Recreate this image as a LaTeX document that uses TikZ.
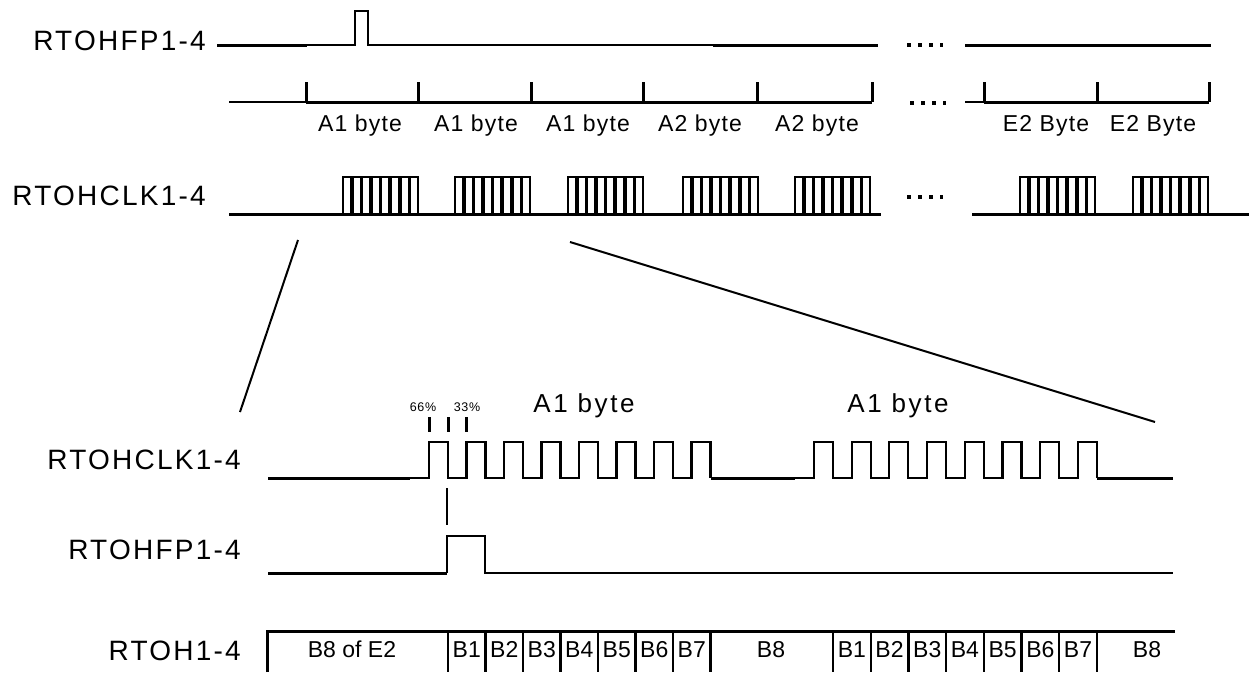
\documentclass[tikz,border=0pt]{standalone}
\usepackage{fontspec}
\setmainfont{Liberation Sans}
\newfontfamily\sigfont[LetterSpace=8]{Liberation Sans}
\newfontfamily\bytefont[LetterSpace=5]{Liberation Sans}
\newfontfamily\bigfont[LetterSpace=10]{Liberation Sans}

\tikzset{
  siglabel/.style={anchor=base east, inner sep=0pt, font=\sigfont\fontsize{28}{31}\selectfont},
  bytelabel/.style={anchor=base, inner sep=0pt, font=\bytefont\fontsize{23}{26}\selectfont},
  biglabel/.style={anchor=base, inner sep=0pt, font=\bigfont\fontsize{26}{29}\selectfont},
  pctlabel/.style={anchor=base, inner sep=0pt, font=\bytefont\fontsize{12.5}{15}\selectfont},
  celllabel/.style={anchor=base, inner sep=0pt, font=\fontsize{23}{26}\selectfont},
  wave/.style={line width=2.1pt},
  thickwave/.style={line width=3pt},
  dots/.style={line width=4pt, dash pattern=on 4pt off 7pt},
  zoomline/.style={line width=2pt},
}

\begin{document}
\begin{tikzpicture}[x=1pt,y=-1pt]
		\fill[white] (0,0) rectangle (1258,672);
		\useasboundingbox (0,0) rectangle (1258,672);
		
		% 上半部分: 帧脉冲
		\node[siglabel] (fpTop) at (206,50) {RTOHFP1-4};
		\draw[thickwave] (217,45) -- (307,45);
		\draw[wave] (307,45) -- (355,45) -- (355,11) -- (368,11) -- (368,45) -- (713,45);
		\draw[thickwave] (713,45) -- (878,45);
		\draw[dots] (907,45) -- (943,45);
		\draw[thickwave] (965,45) -- (1211,45);
		
		% 字节刻度
		\draw[wave] (229,102) -- (306,102);
		\draw[thickwave] (306,102) -- (872,102);
		\foreach \x in {306,418,531,643,757,872}
			\draw[thickwave] (\x,102) -- (\x,82);
		\draw[dots] (910,103) -- (946,103);
		\draw[wave] (965,102) -- (984,102);
		\draw[thickwave] (984,102) -- (1209,102);
		\foreach \x in {984,1097,1209}
			\draw[thickwave] (\x,102) -- (\x,82);
		\foreach \x/\t [count=\i] in {360/A1 byte,476/A1 byte,588/A1 byte,700/A2 byte,817/A2 byte,1046/E2 Byte,1153/E2 Byte}
			\node[bytelabel] (byte\i) at (\x,131) {\t};
		
		% 上半部分: 时钟
		\node[siglabel] (clkTop) at (206,205) {RTOHCLK1-4};
		\draw[thickwave] (229,214) -- (881,214);
		\draw[dots] (907,197) -- (943,197);
		\draw[thickwave] (972,214) -- (1249,214);
		\foreach \s in {343,455,568,683,795,1020,1133}
			\draw[wave] (\s,214) \foreach \k in {0,...,7} {-- ++(0,-37) -- ++(8.1,0) -- ++(0,37) -- ++(1.5,0)};
		
		% 放大线
		\coordinate (zoomA) at (298,240);
		\coordinate (zoomB) at (240,412);
		\coordinate (zoomC) at (570,242);
		\coordinate (zoomD) at (1155,422);
		\draw[zoomline] (zoomA) -- (zoomB);
		\draw[zoomline] (zoomC) -- (zoomD);
		
		% 下半部分: 时钟
		\node[pctlabel] (p66) at (423,411) {66\%};
		\node[pctlabel] (p33) at (467,411) {33\%};
		\foreach \x in {429,448,466}
			\draw[line width=3pt] (\x,417) -- (\x,432);
		\node[biglabel] (byteA) at (584,412) {A1 byte};
		\node[biglabel] (byteB) at (898,412) {A1 byte};
		\node[siglabel] (clkBot) at (241,469) {RTOHCLK1-4};
		\draw[thickwave] (268,478) -- (410,478);
		\draw[wave] (410,478) -- (429,478) \foreach \k in {0,...,6} {-- ++(0,-36) -- ++(19,0) -- ++(0,36) -- ++(18.5,0)} -- ++(0,-36) -- ++(19,0) -- ++(0,36);
		\draw[thickwave] (710.5,478) -- (795,478);
		\draw[wave] (795,478) -- (814,478) \foreach \k in {0,...,6} {-- ++(0,-36) -- ++(19,0) -- ++(0,36) -- ++(18.7,0)} -- ++(0,-36) -- ++(19,0) -- ++(0,36);
		\draw[thickwave] (1096.9,478) -- (1173,478);
		\draw[line width=2.5pt] (447,488) -- (447,525);
		
		% 下半部分: 帧脉冲
		\node[siglabel] (fpBot) at (241,559) {RTOHFP1-4};
		\draw[thickwave] (268,573) -- (447,573);
		\draw[wave] (447,573) -- (447,536) -- (485,536) -- (485,573) -- (1173,573);
		
		% 数据字节
		\node[siglabel] (ohBot) at (241,660) {RTOH1-4};
		\draw[thickwave] (267,672) -- (267,631) -- (1175,631);
		\foreach \k in {0,...,7} {
			\draw[line width=2.2pt] ({448+37.5*\k},631) -- ++(0,41);
			\draw[line width=2.2pt] ({833+37.7*\k},631) -- ++(0,41);
		}
		\node[celllabel] (b8e2) at (352,657) {B8 of E2};
		\foreach \k in {1,...,7} {
			\node[celllabel] (fa\k) at ({448+37.5*(\k-0.5)},657) {B\k};
			\node[celllabel] (fb\k) at ({833+37.7*(\k-0.5)},657) {B\k};
		}
		\node[celllabel] (fa8) at (771,657) {B8};
		\node[celllabel] (fb8) at (1147,657) {B8};
		
	\end{tikzpicture}
\end{document}
